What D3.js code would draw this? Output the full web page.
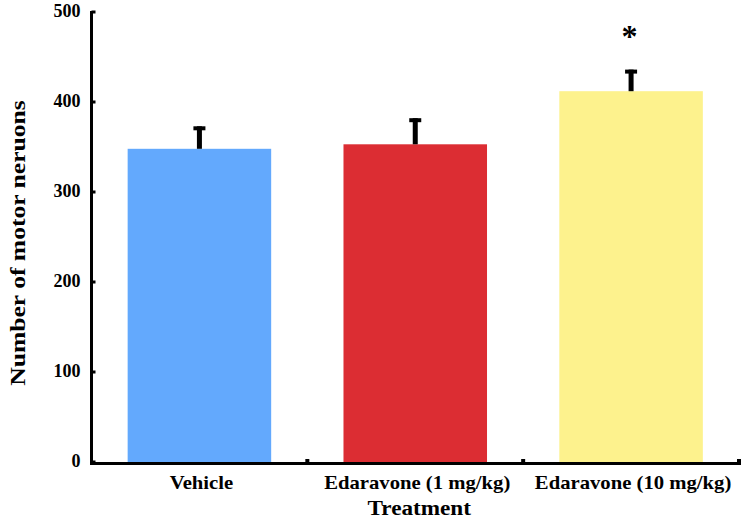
<!DOCTYPE html>
<html><head><meta charset="utf-8">
<script src="https://cdn.jsdelivr.net/npm/d3@7"></script>
<style>body{margin:0;background:#fff;} text{font-family:"Liberation Serif","Times New Roman",serif;font-weight:bold;fill:#000;}</style>
</head><body>
<svg id="c" width="745" height="519"></svg>
<script>
const categories = ["Vehicle", "Edaravone (1 mg/kg)", "Edaravone (10 mg/kg)"];
const means = [348, 353, 412];
const errors = [25, 29, 24];
const colors = ["#63A9FD", "#DC2D33", "#FDF28D"];
const yTicks = [0, 100, 200, 300, 400, 500];
const significance = ["", "", "*"];

const svg = d3.select("#c");
const x0 = 91.5, x1 = 739, yTop = 12, yBot = 462;
const x = d3.scaleBand().domain(categories).range([x0, x1]).paddingInner(0.335).paddingOuter(0.1675);
const y = d3.scaleLinear().domain([0, 500]).range([yBot, yTop]);

// bars
svg.selectAll("rect.bar").data(categories).enter().append("rect")
  .attr("x", d => x(d)).attr("width", x.bandwidth())
  .attr("y", (d,i) => y(means[i])).attr("height", (d,i) => yBot - y(means[i]))
  .attr("fill", (d,i) => colors[i]);

// error bars
categories.forEach((c,i) => {
  const cx = x(c) + x.bandwidth()/2;
  svg.append("rect").attr("x", cx-2.5).attr("width", 5)
    .attr("y", y(means[i]+errors[i])).attr("height", y(means[i]) - y(means[i]+errors[i]))
    .attr("fill", "#000");
  svg.append("rect").attr("x", cx-6).attr("width", 12)
    .attr("y", y(means[i]+errors[i])).attr("height", 4).attr("fill", "#000");
  if (significance[i]) {
    const t = svg.append("text").text(significance[i]).attr("font-size", 32)
      .attr("x", 0).attr("y", 0);
    const bb = t.node().getBBox();
    t.attr("transform", `translate(${cx - 1.5 - bb.x - bb.width/2},${36 - bb.y - bb.height/2})`);
  }
});

// y axis
const yAxis = d3.axisLeft(y).tickValues(yTicks).tickSize(0).tickPadding(10);
const gy = svg.append("g").attr("transform", `translate(${x0},0)`).call(yAxis);
gy.select(".domain").remove();
gy.selectAll("text").attr("font-size", 18).attr("font-family", null).attr("x", -11)
  .attr("dy", "4.5px");
svg.append("line").attr("x1", x0).attr("x2", x0).attr("y1", yTop-1).attr("y2", yBot+3)
  .attr("stroke", "#000").attr("stroke-width", 3);
yTicks.forEach(v => {
  svg.append("rect").attr("x", x0).attr("y", y(v)-1.5).attr("width", 4).attr("height", 3).attr("fill", "#000");
});

// x axis
svg.append("line").attr("x1", x0-1.5).attr("x2", x1+2).attr("y1", yBot+1.5).attr("y2", yBot+1.5)
  .attr("stroke", "#000").attr("stroke-width", 3);
categories.forEach(c => {
  const tx = x(c) + x.bandwidth() + x.step()*x.paddingInner()/2;
  svg.append("rect").attr("x", tx-2).attr("y", yBot-3).attr("width", 4).attr("height", 4).attr("fill", "#000");
});
const xAxis = d3.axisBottom(x).tickSize(0).tickPadding(0);
const gx = svg.append("g").attr("transform", `translate(0,${yBot})`).call(xAxis);
gx.select(".domain").remove();
gx.selectAll(".tick text").attr("font-size", 18).attr("font-family", null).attr("y", 0).attr("dy", null)
  .attr("transform", "translate(2,27) scale(1.15,1)");

// axis titles
svg.append("text").text("Treatment").attr("transform", `translate(${(x0+x1)/2+4},515) scale(1.16,1)`)
  .attr("text-anchor", "middle").attr("font-size", 20);
svg.append("text").text("Number of motor neruons")
  .attr("transform", `translate(25,243) rotate(-90) scale(1.28,1)`)
  .attr("text-anchor", "middle").attr("font-size", 20);
</script>
</body></html>
